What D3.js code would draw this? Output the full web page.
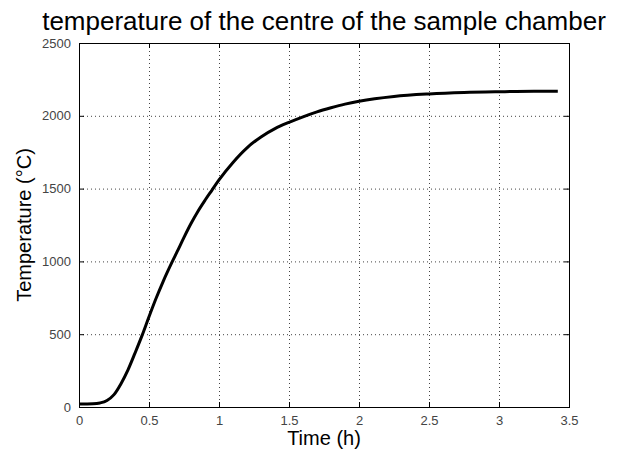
<!DOCTYPE html>
<html>
<head>
<meta charset="utf-8">
<script src="https://cdn.jsdelivr.net/npm/d3@7"></script>
<style>
  body { margin: 0; background: #fff; }
  text { font-family: Arial, "Liberation Sans", sans-serif; }
</style>
</head>
<body>
<script>
// Data
var timeHours = [0, 0.1, 0.15, 0.2, 0.25, 0.3, 0.35, 0.4, 0.45, 0.5, 0.55, 0.6, 0.667, 0.7, 0.75, 0.8, 0.85, 0.9, 0.95, 1.0,
  1.1, 1.2, 1.3, 1.4, 1.5, 1.6, 1.7, 1.8, 1.9, 2.0, 2.25, 2.5, 2.75, 3.0, 3.25, 3.42];
var tempC = [20, 22, 28, 45, 85, 160, 255, 370, 490, 620, 745, 860, 1000, 1065, 1165, 1260, 1345, 1420, 1490, 1560,
  1680, 1780, 1855, 1912, 1955, 1993, 2027, 2055, 2080, 2100, 2133, 2150, 2160, 2165, 2168, 2168];
var xTicks = [0, 0.5, 1, 1.5, 2, 2.5, 3, 3.5];
var yTicks = [0, 500, 1000, 1500, 2000, 2500];

var svgWidth = 618;
var svgHeight = 452;
var margin = { top: 43, right: 49, bottom: 45, left: 79 };
var width = svgWidth - margin.left - margin.right;
var height = svgHeight - margin.top - margin.bottom;

var svg = d3.select("body").append("svg")
  .attr("width", svgWidth)
  .attr("height", svgHeight);

var g = svg.append("g")
  .attr("transform", `translate(${margin.left}, ${margin.top})`);

var x = d3.scaleLinear().domain([0, 3.5]).range([0, width]);
var y = d3.scaleLinear().domain([0, 2500]).range([height, 0]);

// dotted grid
g.selectAll(".vgrid").data(xTicks.slice(1, -1)).enter().append("line")
  .attr("x1", d => x(d) + 0.5).attr("x2", d => x(d) + 0.5)
  .attr("y1", 0).attr("y2", height)
  .attr("stroke", "#444").attr("stroke-dasharray", "1,3");
g.selectAll(".hgrid").data(yTicks.slice(1, -1)).enter().append("line")
  .attr("y1", d => y(d) + 0.5).attr("y2", d => y(d) + 0.5)
  .attr("x1", 0).attr("x2", width)
  .attr("stroke", "#444").attr("stroke-dasharray", "1,3");

// axes with inward ticks (bottom/left labelled, top/right bare)
var xAxis = d3.axisBottom(x).tickValues(xTicks).tickSize(-5).tickPadding(9).tickFormat(d3.format("~g"));
var yAxis = d3.axisLeft(y).tickValues(yTicks).tickSize(-5).tickPadding(8).tickFormat(d3.format("d"));

function styleAxis(sel) {
  sel.select(".domain").remove();
  sel.selectAll("line").attr("stroke", "#000");
  sel.selectAll("text").attr("fill", "#444").style("font-size", "13px").style("font-family", "Arial, 'Liberation Sans', sans-serif");
}

g.append("g").attr("transform", `translate(0, ${height})`).call(xAxis).call(styleAxis);
g.append("g").call(yAxis).call(styleAxis);
g.append("g").call(d3.axisTop(x).tickValues(xTicks).tickSize(-5).tickFormat("")).call(styleAxis);
g.append("g").attr("transform", `translate(${width}, 0)`)
  .call(d3.axisRight(y).tickValues(yTicks).tickSize(-5).tickFormat("")).call(styleAxis);

// box
g.append("rect")
  .attr("x", 0.5).attr("y", 0.5)
  .attr("width", width).attr("height", height)
  .attr("fill", "none").attr("stroke", "#000");

// curve
var line = d3.line()
  .x((d, i) => x(timeHours[i]))
  .y(d => y(d))
  .curve(d3.curveMonotoneX);

g.append("path")
  .datum(tempC)
  .attr("d", line)
  .attr("fill", "none")
  .attr("stroke", "#000")
  .attr("stroke-width", 3)
  .attr("stroke-linejoin", "round");

// titles
svg.append("text")
  .attr("x", margin.left + width / 2)
  .attr("y", 30)
  .attr("text-anchor", "middle")
  .style("font-size", "26px")
  .text("temperature of the centre of the sample chamber");

svg.append("text")
  .attr("x", margin.left + width / 2)
  .attr("y", 445)
  .attr("text-anchor", "middle")
  .style("font-size", "20px")
  .text("Time (h)");

svg.append("text")
  .attr("transform", `translate(31, ${margin.top + height / 2}) rotate(-90)`)
  .attr("text-anchor", "middle")
  .style("font-size", "20px")
  .text("Temperature (°C)");
</script>
</body>
</html>
